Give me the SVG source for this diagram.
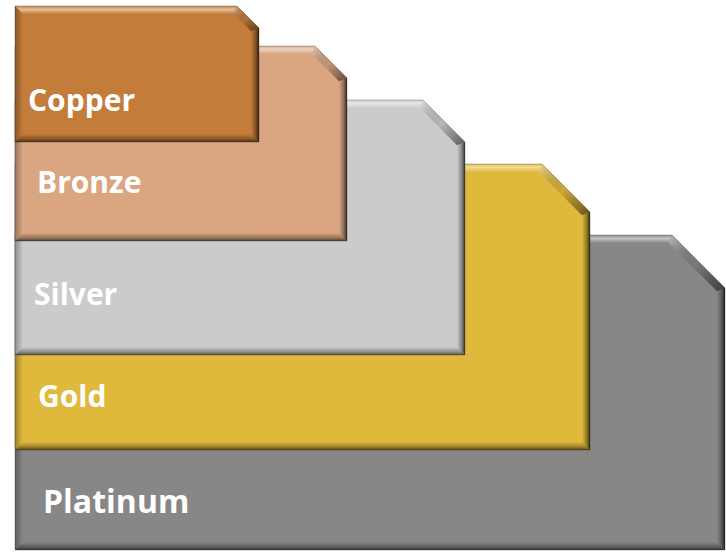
<svg xmlns="http://www.w3.org/2000/svg" width="726" height="552" viewBox="0 0 726 552">
<defs>
<linearGradient id="gTop" x1="0" y1="0" x2="0" y2="1"><stop offset="0" stop-color="#fff" stop-opacity="0.1"/><stop offset="0.45" stop-color="#fff" stop-opacity="0.5"/><stop offset="1" stop-color="#fff" stop-opacity="0"/></linearGradient>
<linearGradient id="gBot" x1="0" y1="0" x2="0" y2="1"><stop offset="0" stop-color="#000" stop-opacity="0"/><stop offset="0.6" stop-color="#000" stop-opacity="0.3"/><stop offset="1" stop-color="#000" stop-opacity="0.6"/></linearGradient>
<linearGradient id="gRight" x1="0" y1="0" x2="1" y2="0"><stop offset="0" stop-color="#000" stop-opacity="0"/><stop offset="0.6" stop-color="#000" stop-opacity="0.35"/><stop offset="1" stop-color="#000" stop-opacity="0.75"/></linearGradient>
<linearGradient id="gLeft" x1="0" y1="0" x2="1" y2="0"><stop offset="0" stop-color="#000" stop-opacity="0.3"/><stop offset="1" stop-color="#000" stop-opacity="0"/></linearGradient>
<linearGradient id="gCham" x1="0" y1="0" x2="1" y2="1"><stop offset="0" stop-color="#fff" stop-opacity="0.45"/><stop offset="0.5" stop-color="#000" stop-opacity="0.1"/><stop offset="1" stop-color="#000" stop-opacity="0.55"/></linearGradient>
</defs>
<style>
.top{fill:url(#gTop)}
.bot{fill:url(#gBot)}
.rt{fill:url(#gRight)}
.lf{fill:url(#gLeft)}
.ch{fill:url(#gCham)}
.edge{fill:none;stroke:#000;stroke-opacity:0.25;stroke-width:1}
.lbl{font-family:"Open Sans","DejaVu Sans",sans-serif;font-weight:bold;font-size:30px;fill:#fff}
</style>
<g id="platinum">
<polygon points="15,235 672,235 725,288 725,550 15,550" fill="#878787"/>
<polygon class="top" points="15,235 672,235 668.7,243 23,243"/>
<polygon class="ch" points="672,235 725,288 717,291.3 668.7,243"/>
<polygon class="rt" points="725,288 725,550 717,542 717,291.3"/>
<polygon class="bot" points="15,550 725,550 717,542 23,542"/>
<polygon class="lf" points="15,235 23,243 23,542 15,550"/>
<polygon class="edge" points="15,235 672,235 725,288 725,550 15,550"/>
<text class="lbl" x="43" y="513" style="font-size:32px">Platinum</text>
</g>
<g id="gold">
<polygon points="15,164 542,164 590,212 590,450 15,450" fill="#E0B93C"/>
<polygon class="top" points="15,164 542,164 538.7,172 23,172"/>
<polygon class="ch" points="542,164 590,212 582,215.3 538.7,172"/>
<polygon class="rt" points="590,212 590,450 582,442 582,215.3"/>
<polygon class="bot" points="15,450 590,450 582,442 23,442"/>
<polygon class="lf" points="15,164 23,172 23,442 15,450"/>
<polygon class="edge" points="15,164 542,164 590,212 590,450 15,450"/>
<text class="lbl" x="38" y="407">Gold</text>
</g>
<g id="silver">
<polygon points="15,100 423,100 465,142 465,355 15,355" fill="#CBCBCB"/>
<polygon class="top" points="15,100 423,100 419.7,108 23,108"/>
<polygon class="ch" points="423,100 465,142 457,145.3 419.7,108"/>
<polygon class="rt" points="465,142 465,355 457,347 457,145.3"/>
<polygon class="bot" points="15,355 465,355 457,347 23,347"/>
<polygon class="lf" points="15,100 23,108 23,347 15,355"/>
<polygon class="edge" points="15,100 423,100 465,142 465,355 15,355"/>
<text class="lbl" x="34" y="305">Silver</text>
</g>
<g id="bronze">
<polygon points="15,46 315,46 347,78 347,241 15,241" fill="#D9A681"/>
<polygon class="top" points="15,46 315,46 311.7,54 23,54"/>
<polygon class="ch" points="315,46 347,78 339,81.3 311.7,54"/>
<polygon class="rt" points="347,78 347,241 339,233 339,81.3"/>
<polygon class="bot" points="15,241 347,241 339,233 23,233"/>
<polygon class="lf" points="15,46 23,54 23,233 15,241"/>
<polygon class="edge" points="15,46 315,46 347,78 347,241 15,241"/>
<text class="lbl" x="37" y="193">Bronze</text>
</g>
<g id="copper">
<polygon points="15,6 237,6 259,28 259,142 15,142" fill="#C47C3A"/>
<polygon class="top" points="15,6 237,6 233.7,14 23,14"/>
<polygon class="ch" points="237,6 259,28 251,31.3 233.7,14"/>
<polygon class="rt" points="259,28 259,142 251,134 251,31.3"/>
<polygon class="bot" points="15,142 259,142 251,134 23,134"/>
<polygon class="lf" points="15,6 23,14 23,134 15,142"/>
<polygon class="edge" points="15,6 237,6 259,28 259,142 15,142"/>
<text class="lbl" x="28" y="111">Copper</text>
</g>
<g id="connectors"/>
</svg>
